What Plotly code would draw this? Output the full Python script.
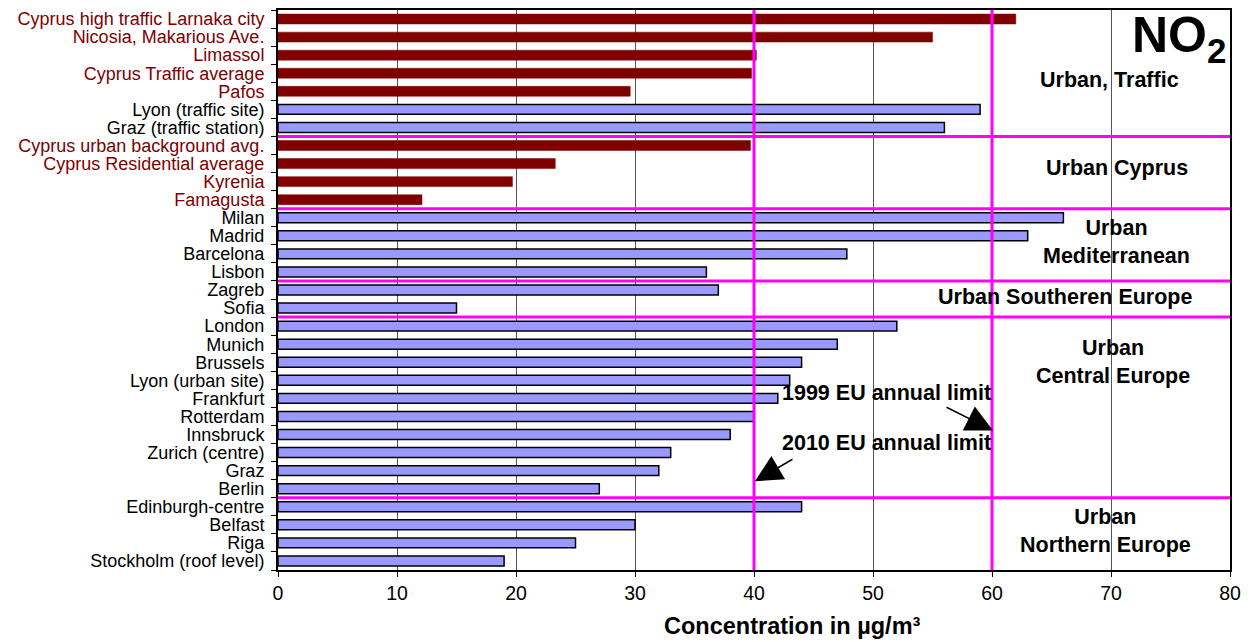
import plotly.graph_objects as go

# ---- data ----
site_order = [
    "Cyprus high traffic Larnaka city", "Nicosia, Makarious Ave.", "Limassol",
    "Cyprus Traffic average", "Pafos", "Lyon (traffic site)", "Graz (traffic station)",
    "Cyprus urban background avg.", "Cyprus Residential average", "Kyrenia", "Famagusta",
    "Milan", "Madrid", "Barcelona", "Lisbon", "Zagreb", "Sofia",
    "London", "Munich", "Brussels", "Lyon (urban site)", "Frankfurt", "Rotterdam",
    "Innsbruck", "Zurich (centre)", "Graz", "Berlin",
    "Edinburgh-centre", "Belfast", "Riga", "Stockholm (roof level)",
]

cyprus_sites = [
    "Cyprus high traffic Larnaka city", "Nicosia, Makarious Ave.", "Limassol",
    "Cyprus Traffic average", "Pafos", "Cyprus urban background avg.",
    "Cyprus Residential average", "Kyrenia", "Famagusta",
]
cyprus_values = [62, 55, 40.2, 39.8, 29.6, 39.7, 23.3, 19.7, 12.1]

europe_sites = [
    "Lyon (traffic site)", "Graz (traffic station)",
    "Milan", "Madrid", "Barcelona", "Lisbon", "Zagreb", "Sofia",
    "London", "Munich", "Brussels", "Lyon (urban site)", "Frankfurt", "Rotterdam",
    "Innsbruck", "Zurich (centre)", "Graz", "Berlin",
    "Edinburgh-centre", "Belfast", "Riga", "Stockholm (roof level)",
]
europe_values = [59, 56, 66, 63, 47.8, 36, 37, 15, 52, 47, 44, 43, 42, 40,
                 38, 33, 32, 27, 44, 30, 25, 19]

limits_x = [40, 60]                     # 2010 and 1999 EU annual limits
group_boundaries = [6.5, 10.5, 14.5, 16.5, 26.5]   # between category indices

group_labels = [
    ("Urban, Traffic", 69.9, 3.36),
    ("Urban Cyprus", 70.5, 8.27),
    ("Urban<br>Mediterranean", 70.5, 12.32),
    ("Urban Southeren Europe", 66.1, 15.39),
    ("Urban<br>Central Europe", 70.2, 18.97),
    ("Urban<br>Northern Europe", 69.5, 28.35),
]

FONT = "Liberation Sans, Arial, sans-serif"
RED = "#800000"
BLUE = "#9999FF"
MAG = "#FF00FF"

ticktext = [f"<span style='color:{RED}'>{s}</span>" if s in cyprus_sites else s
            for s in site_order]

fig = go.Figure()
fig.add_trace(go.Bar(y=cyprus_sites, x=cyprus_values, orientation="h",
                     marker=dict(color=RED, line=dict(color=RED, width=0.5)),
                     showlegend=False))
fig.add_trace(go.Bar(y=europe_sites, x=europe_values, orientation="h",
                     marker=dict(color=BLUE, line=dict(color="black", width=1.5)),
                     showlegend=False))

for b in group_boundaries:
    fig.add_shape(type="line", xref="x", yref="y", x0=0, x1=80, y0=b, y1=b,
                  line=dict(color=MAG, width=3), layer="above")
for lx in limits_x:
    fig.add_shape(type="line", xref="x", yref="paper", x0=lx, x1=lx, y0=0, y1=1,
                  line=dict(color=MAG, width=3), layer="above")

for txt, gx, gy in group_labels:
    fig.add_annotation(x=gx, y=gy, xref="x", yref="y", text=f"<b>{txt}</b>",
                       showarrow=False, font=dict(family=FONT, size=21.5, color="black"),
                       xanchor="center", yanchor="middle")

fig.add_annotation(x=75.7, y=1.1, xref="x", yref="y", text="<b>NO<sub>2</sub></b>",
                   showarrow=False, font=dict(family=FONT, size=50, color="black"),
                   xanchor="center", yanchor="middle")

fig.add_annotation(x=51.1, y=20.68, xref="x", yref="y", text="<b>1999 EU annual limit</b>",
                   showarrow=False, font=dict(family=FONT, size=21.5, color="black"))
fig.add_annotation(x=51.1, y=23.49, xref="x", yref="y", text="<b>2010 EU annual limit</b>",
                   showarrow=False, font=dict(family=FONT, size=21.5, color="black"))

fig.add_annotation(x=60.08, y=22.78, ax=56.05, ay=21.45, xref="x", yref="y",
                   axref="x", ayref="y", text="", showarrow=True,
                   arrowhead=2, arrowsize=3.6, arrowwidth=1.5, arrowcolor="black")
fig.add_annotation(x=40.08, y=25.59, ax=43.36, ay=24.32, xref="x", yref="y",
                   axref="x", ayref="y", text="", showarrow=True,
                   arrowhead=2, arrowsize=3.6, arrowwidth=1.5, arrowcolor="black")

# x-axis title (offset right of centre, as in the original)
fig.add_annotation(x=0.54, y=-0.0996, xref="paper", yref="paper",
                   text="<b>Concentration in µg/m³</b>", showarrow=False,
                   font=dict(family=FONT, size=23.5, color="black"),
                   xanchor="center", yanchor="middle")

fig.update_layout(
    width=1255, height=642,
    margin=dict(l=270, r=33, t=0, b=80),
    paper_bgcolor="white", plot_bgcolor="white",
    barmode="overlay", bargap=0.45,
    font=dict(family=FONT, color="black"),
    xaxis=dict(range=[0, 80], dtick=10, tick0=0, showgrid=True, gridcolor="#555555",
               gridwidth=1, ticks="outside", ticklen=5, tickcolor="black",
               showline=True, linecolor="black", linewidth=2, mirror=True,
               zeroline=False, tickfont=dict(size=19.5, family=FONT)),
    yaxis=dict(type="category", categoryorder="array", categoryarray=site_order,
               range=[30.5, -0.5], tickmode="array", tickvals=site_order,
               ticktext=ticktext, tickson="boundaries", ticks="outside", ticklen=5,
               tickcolor="black", showline=True, linecolor="black", linewidth=2,
               mirror=True, showgrid=False, zeroline=False, ticklabelstandoff=8,
               tickfont=dict(size=18, family=FONT, color="black")),
)

fig.write_html("out.html")
